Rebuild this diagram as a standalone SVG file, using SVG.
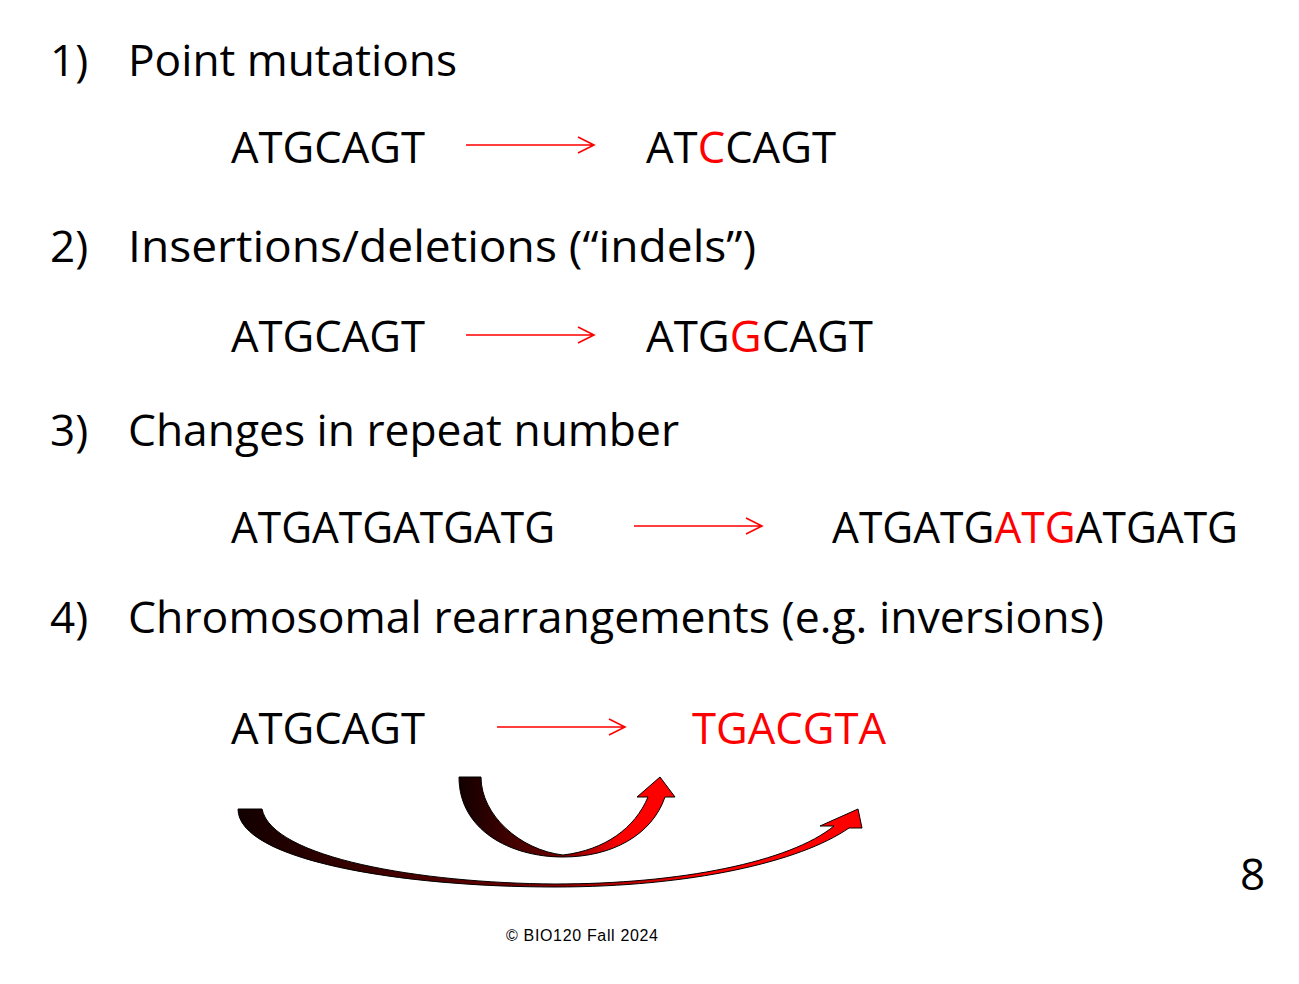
<svg xmlns="http://www.w3.org/2000/svg" width="1299" height="984" viewBox="0 0 1299 984">
<style>
text{font-family:"Open Sans","Liberation Sans",sans-serif;fill:#000}
.h{font-size:44px}
.s{font-size:44px}
.r{fill:#ff0000}
.arr{stroke:#ff0000;stroke-width:1.6;fill:none}
</style>
<defs>
<linearGradient id="g" x1="0" y1="0" x2="1" y2="0">
<stop offset="0" stop-color="#120000"/><stop offset="0.45" stop-color="#6a0000"/><stop offset="0.75" stop-color="#ff0000"/><stop offset="1" stop-color="#ff0000"/>
</linearGradient>
</defs>
<rect width="1299" height="984" fill="#fff"/>
<g id="headings">
<text class="h" x="50" y="76">1)</text><text class="h" x="128" y="76" textLength="329" lengthAdjust="spacingAndGlyphs">Point mutations</text>
<text class="h" x="50" y="262">2)</text><text class="h" x="128" y="262" textLength="628" lengthAdjust="spacingAndGlyphs">Insertions/deletions (“indels”)</text>
<text class="h" x="50" y="446">3)</text><text class="h" x="128" y="446" textLength="551" lengthAdjust="spacingAndGlyphs">Changes in repeat number</text>
<text class="h" x="50" y="633">4)</text><text class="h" x="128" y="633" textLength="976" lengthAdjust="spacingAndGlyphs">Chromosomal rearrangements (e.g. inversions)</text>
</g>
<g id="seqs">
<text class="s" x="231" y="163" textLength="194" lengthAdjust="spacingAndGlyphs">ATGCAGT</text>
<text class="s" x="646" y="163" textLength="190" lengthAdjust="spacingAndGlyphs">AT<tspan class="r">C</tspan>CAGT</text>
<text class="s" x="231" y="352" textLength="194" lengthAdjust="spacingAndGlyphs">ATGCAGT</text>
<text class="s" x="646" y="352" textLength="227" lengthAdjust="spacingAndGlyphs">ATG<tspan class="r">G</tspan>CAGT</text>
<text class="s" x="231" y="543" textLength="324" lengthAdjust="spacingAndGlyphs">ATGATGATGATG</text>
<text class="s" x="832" y="543" textLength="406" lengthAdjust="spacingAndGlyphs">ATGATG<tspan class="r">ATG</tspan>ATGATG</text>
<text class="s" x="231" y="744" textLength="194" lengthAdjust="spacingAndGlyphs">ATGCAGT</text>
<text class="s r" x="692" y="744" textLength="194" lengthAdjust="spacingAndGlyphs">TGACGTA</text>
</g>
<g id="connectors">
<path class="arr" d="M466,145 H594 M578,137 L594,145 L578,153"/>
<path class="arr" d="M466,335 H594 M578,327 L594,335 L578,343"/>
<path class="arr" d="M634,526 H762 M746,518 L762,526 L746,534"/>
<path class="arr" d="M497,727 H625 M609,719 L625,727 L609,735"/>
<path fill="url(#g)" stroke="#000" stroke-width="1" d="M459,777 L481,777 C481,815 520,850 563,855 C605,850 635,828 648,797 L637,797 L660,777 L675,797 L665,797 C652,835 612,857 563,857 C510,857 459,830 459,777 Z"/>
<path fill="url(#g)" stroke="#000" stroke-width="1" d="M238,809 L262,809 C272,858 420,883 555,884 C680,884 790,862 834,826 L820,826 L858,809 L862,828 L849,828 C800,862 690,887 555,887 C400,887 238,860 238,809 Z"/>
</g>
<text x="1240" y="890" style="font-size:44px">8</text>
<text x="506" y="941" textLength="152" style="font-family:'Liberation Sans',sans-serif;font-size:16px">© BIO120 Fall 2024</text>
</svg>
